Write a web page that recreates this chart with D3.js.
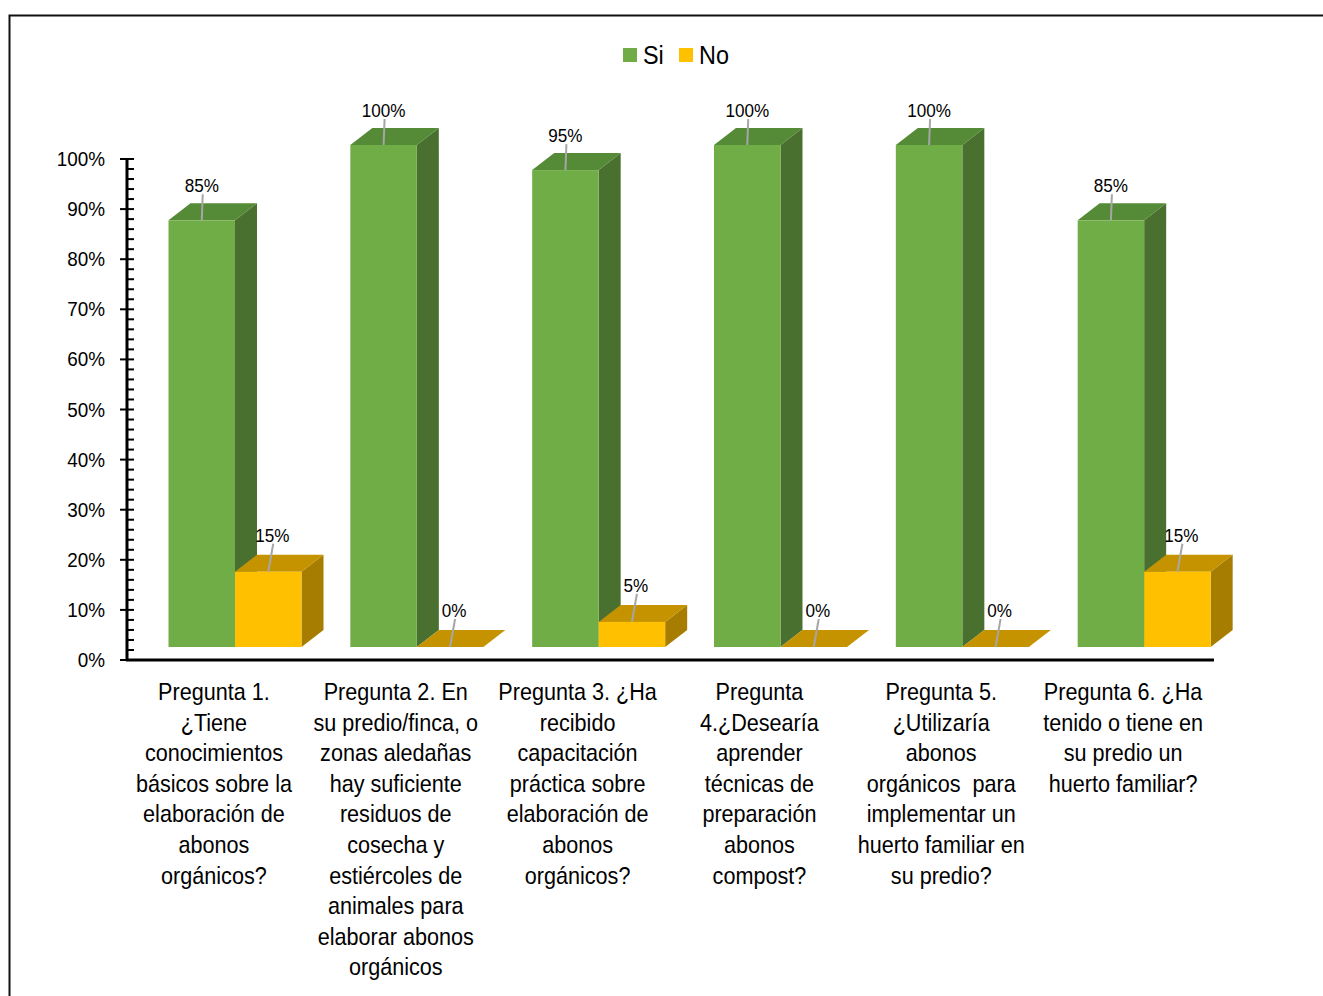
<!DOCTYPE html>
<html><head><meta charset="utf-8">
<script src="https://cdn.jsdelivr.net/npm/d3@7"></script>
<style>
body{margin:0;background:#fff;}
svg text{font-family:'Liberation Sans',Arial,sans-serif;fill:#000;}
</style></head>
<body><svg id="c" width="1323" height="996"></svg>
<script>
const categories = [
  ["Pregunta 1.","¿Tiene","conocimientos","básicos sobre la","elaboración de","abonos","orgánicos?"],
  ["Pregunta 2. En","su predio/finca, o","zonas aledañas","hay suficiente","residuos de","cosecha y","estiércoles de","animales para","elaborar abonos","orgánicos"],
  ["Pregunta 3. ¿Ha","recibido","capacitación","práctica sobre","elaboración de","abonos","orgánicos?"],
  ["Pregunta","4.¿Desearía","aprender","técnicas de","preparación","abonos","compost?"],
  ["Pregunta 5.","¿Utilizaría","abonos","orgánicos  para","implementar un","huerto familiar en","su predio?"],
  ["Pregunta 6. ¿Ha","tenido o tiene en","su predio un","huerto familiar?"]
];
const seriesNames = ["Si","No"];
const siValues = [0.85, 1.00, 0.95, 1.00, 1.00, 0.85];
const noValues = [0.15, 0.00, 0.05, 0.00, 0.00, 0.15];
const yTicks = [0,0.1,0.2,0.3,0.4,0.5,0.6,0.7,0.8,0.9,1.0];

const colors = {
  Si:{front:"#70AD47", top:"#558A36", side:"#4A7030"},
  No:{front:"#FFC000", top:"#C59300", side:"#A67D00"}
};
const SX = 0.9; // horizontal condensation (narrow font look)

const svg = d3.select("#c");
function ntext(parent, x, y, str, size, anchor){
  return parent.append("text")
    .attr("transform",`translate(${x},${y}) scale(${SX},1)`)
    .attr("text-anchor",anchor||"middle").attr("font-size",size).text(str);
}

// frame
svg.append("rect").attr("x",9.5).attr("y",15.5).attr("width",1400).attr("height",1100)
  .attr("fill","none").attr("stroke","#111").attr("stroke-width",2);

const idx = categories.map((d,i)=>i);
const x0 = d3.scaleBand(idx,[127,1218]).padding(0);
const x1 = d3.scaleBand(seriesNames,[41.5,41.5+133]).padding(0);
const yAxisScale = d3.scaleLinear([0,1],[660,159]);
const yFront = d3.scaleLinear([0,1],[647,145]);
const DX = 22, DY = -17;

// bars
const bars = [];
idx.forEach(i=>{
  bars.push({i, s:"Si", v:siValues[i]});
  bars.push({i, s:"No", v:noValues[i]});
});
const g = svg.append("g");
bars.forEach(b=>{
  const xl = x0(b.i)+x1(b.s), w = x1.bandwidth();
  const xr = xl+w, yb = yFront(0), yt = yFront(b.v);
  const c = colors[b.s];
  const gg = g.append("g");
  gg.append("path").attr("d",`M${xr},${yb}L${xr+DX},${yb+DY}L${xr+DX},${yt+DY}L${xr},${yt}Z`).attr("fill",c.side);
  gg.append("path").attr("d",`M${xl},${yt}L${xl+DX},${yt+DY}L${xr+DX},${yt+DY}L${xr},${yt}Z`).attr("fill",c.top);
  if (yb-yt>0) gg.append("rect").attr("x",xl).attr("y",yt).attr("width",w).attr("height",yb-yt).attr("fill",c.front);
});

// data labels
bars.forEach(b=>{
  const xl = x0(b.i)+x1(b.s), w = x1.bandwidth();
  const cx = xl + w/2;
  const yt = yFront(b.v);
  const lx = b.s==="Si" ? cx : cx+4;
  const ly = yt + DY - (b.s==="Si" ? 10 : 12);
  svg.append("line").attr("x1",lx+1).attr("y1",ly+1).attr("x2",cx).attr("y2",yt)
    .attr("stroke","#A6A6A6").attr("stroke-width",2);
  ntext(svg, lx, ly-1, Math.round(b.v*100)+"%", 19);
});

// y axis
yTicks.forEach(t=>{
  ntext(svg, 105, yAxisScale(t)+7, d3.format(".0%")(t), 21, "end");
});
const minor = d3.range(0,1.0001,0.02);
svg.append("g").selectAll("line").data(minor).join("line")
  .attr("x1",d=>Math.round(d*100)%10===0?120:127).attr("x2",134)
  .attr("y1",d=>yAxisScale(d)).attr("y2",d=>yAxisScale(d))
  .attr("stroke","#000").attr("stroke-width",2);
svg.append("line").attr("x1",127).attr("x2",127).attr("y1",158).attr("y2",661).attr("stroke","#000").attr("stroke-width",3);
svg.append("line").attr("x1",126).attr("x2",1214).attr("y1",660).attr("y2",660).attr("stroke","#000").attr("stroke-width",3);

// category labels
idx.forEach(i=>{
  const cx = x0(i)+x0.bandwidth()/2 - 4;
  const t = svg.append("text").attr("transform",`translate(${cx},0) scale(${SX},1)`)
    .attr("text-anchor","middle").attr("font-size",24);
  categories[i].forEach((ln,k)=>{
    t.append("tspan").attr("x",0).attr("y",700+k*30.6).attr("xml:space","preserve").text(ln);
  });
});

// legend
[["Si",623,643],["No",679,699]].forEach(([s,rx,tx])=>{
  svg.append("rect").attr("x",rx).attr("y",48).attr("width",14).attr("height",14).attr("fill",colors[s].front);
  ntext(svg, tx, 64, s, 26, "start");
});
</script></body></html>
